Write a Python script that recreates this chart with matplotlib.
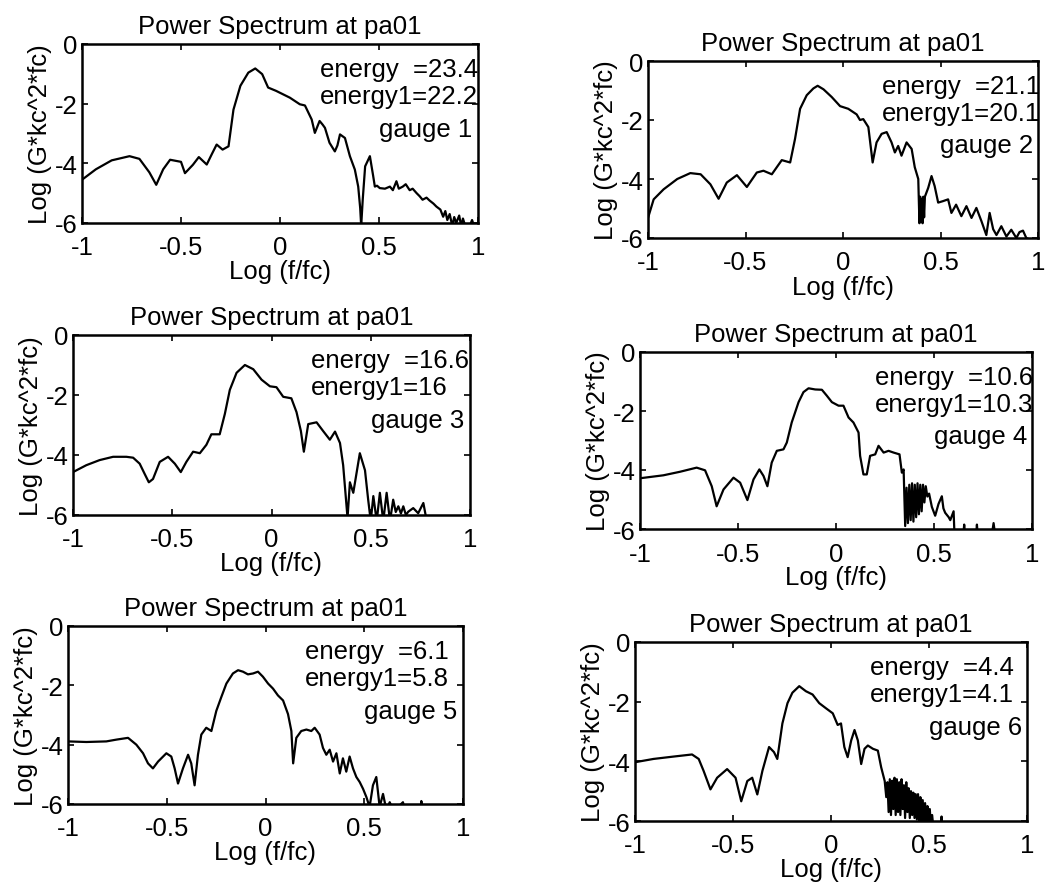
import numpy as np
import matplotlib
matplotlib.use("Agg")
import matplotlib.pyplot as plt

plt.rcParams['font.family'] = ['Liberation Sans', 'DejaVu Sans']

# (log f/fc, log spectrum)
gauge1 = [(-1.0, -4.55), (-0.93, -4.2), (-0.85, -3.9), (-0.76, -3.76), (-0.71, -3.85), (-0.66, -4.3),
          (-0.625, -4.72), (-0.59, -4.2), (-0.555, -3.88), (-0.50, -3.95), (-0.48, -4.33), (-0.44, -4.05),
          (-0.41, -3.79), (-0.37, -4.04), (-0.345, -3.7), (-0.32, -3.37), (-0.29, -3.54), (-0.26, -3.43),
          (-0.235, -2.2), (-0.20, -1.4), (-0.16, -0.96), (-0.125, -0.82), (-0.09, -1.01), (-0.06, -1.46),
          (-0.02, -1.57), (0.05, -1.80), (0.10, -2.02), (0.126, -2.06), (0.16, -2.53), (0.176, -2.98),
          (0.20, -2.58), (0.215, -2.7), (0.227, -2.81), (0.25, -3.31), (0.277, -3.6), (0.29, -3.4),
          (0.303, -3.03), (0.328, -3.15), (0.353, -3.76), (0.378, -4.21), (0.395, -4.78), (0.405, -5.5),
          (0.41, -6.1), (0.418, -5.2), (0.43, -4.1), (0.454, -3.76), (0.47, -4.4), (0.479, -4.78),
          (0.49, -4.75), (0.504, -4.83), (0.53, -4.85), (0.555, -4.78), (0.57, -4.9), (0.588, -4.6),
          (0.60, -4.85), (0.62, -4.78), (0.635, -4.7), (0.655, -4.9), (0.67, -4.85), (0.69, -5.0),
          (0.705, -5.1), (0.72, -5.22), (0.74, -5.15), (0.756, -5.25), (0.775, -5.35), (0.79, -5.45),
          (0.81, -5.55), (0.824, -5.79), (0.835, -5.6), (0.845, -5.9), (0.857, -5.7), (0.87, -6.1),
          (0.88, -5.8), (0.89, -6.0), (0.905, -5.75), (0.915, -6.1), (0.924, -5.85), (0.94, -6.2),
          (0.958, -6.1), (0.97, -5.9), (0.985, -6.2), (1.0, -6.2)]

gauge2 = [(-1.0, -5.32), (-0.971, -4.69), (-0.92, -4.35), (-0.85, -4.0), (-0.783, -3.80), (-0.73, -3.84),
          (-0.68, -4.18), (-0.638, -4.67), (-0.596, -4.12), (-0.544, -3.87), (-0.493, -4.27), (-0.442, -3.78),
          (-0.408, -3.72), (-0.365, -3.84), (-0.314, -3.36), (-0.271, -3.44), (-0.246, -2.64), (-0.22, -1.62),
          (-0.186, -1.16), (-0.152, -0.93), (-0.13, -0.84), (-0.10, -0.96), (-0.058, -1.22), (-0.015, -1.53),
          (0.027, -1.62), (0.07, -1.81), (0.087, -2.0), (0.104, -1.97), (0.13, -2.24), (0.152, -3.44),
          (0.172, -2.76), (0.198, -2.47), (0.224, -2.41), (0.249, -2.76), (0.266, -3.10), (0.283, -2.88),
          (0.30, -3.21), (0.326, -2.76), (0.352, -2.98), (0.368, -3.6), (0.386, -4.0), (0.392, -5.5),
          (0.396, -4.6), (0.400, -5.45), (0.404, -4.7), (0.408, -5.5), (0.412, -4.6), (0.416, -5.3),
          (0.42, -4.6), (0.437, -4.3), (0.454, -3.9), (0.47, -4.24), (0.488, -4.8), (0.513, -4.75),
          (0.539, -4.69), (0.556, -5.15), (0.58, -4.87), (0.607, -5.26), (0.633, -4.92), (0.659, -5.32),
          (0.684, -4.98), (0.71, -5.43), (0.735, -5.9), (0.752, -5.15), (0.77, -5.7), (0.787, -5.9),
          (0.812, -5.6), (0.838, -5.95), (0.863, -5.72), (0.889, -6.0), (0.905, -5.8), (0.923, -5.75),
          (0.94, -6.0), (0.957, -6.05), (1.0, -6.05)]

gauge3 = [(-1.0, -4.57), (-0.933, -4.34), (-0.866, -4.17), (-0.798, -4.06), (-0.731, -4.06), (-0.697, -4.09),
          (-0.664, -4.29), (-0.639, -4.63), (-0.618, -4.91), (-0.597, -4.8), (-0.563, -4.23), (-0.521, -4.06),
          (-0.487, -4.29), (-0.457, -4.57), (-0.429, -4.23), (-0.395, -3.89), (-0.361, -3.94), (-0.328, -3.66),
          (-0.303, -3.31), (-0.261, -3.31), (-0.235, -2.63), (-0.21, -1.83), (-0.176, -1.26), (-0.134, -1.0),
          (-0.092, -1.14), (-0.05, -1.49), (-0.008, -1.71), (0.025, -1.74), (0.059, -2.06), (0.1, -2.11),
          (0.126, -2.57), (0.148, -3.2), (0.163, -3.89), (0.185, -2.97), (0.227, -2.91), (0.26, -3.2),
          (0.294, -3.49), (0.32, -3.22), (0.345, -3.6), (0.361, -4.34), (0.383, -6.1), (0.395, -4.91),
          (0.412, -5.26), (0.445, -3.94), (0.471, -4.51), (0.487, -5.49), (0.5, -6.2), (0.513, -5.37),
          (0.53, -6.2), (0.546, -5.26), (0.563, -6.2), (0.58, -5.26), (0.597, -6.2), (0.613, -5.49),
          (0.626, -5.9), (0.639, -5.71), (0.652, -5.95), (0.664, -5.71), (0.677, -6.0), (0.689, -5.89),
          (0.714, -5.77), (0.739, -5.94), (0.765, -5.6), (0.782, -6.2), (0.815, -6.05), (1.0, -6.2)]

gauge4 = [(-1.0, -4.28), (-0.881, -4.18), (-0.796, -4.06), (-0.711, -3.92), (-0.668, -4.01), (-0.634, -4.55),
          (-0.609, -5.23), (-0.574, -4.66), (-0.523, -4.26), (-0.489, -4.43), (-0.452, -5.02), (-0.421, -4.32),
          (-0.391, -3.98), (-0.37, -4.2), (-0.35, -4.55), (-0.328, -3.75), (-0.302, -3.35), (-0.268, -3.3),
          (-0.251, -3.07), (-0.226, -2.39), (-0.191, -1.7), (-0.166, -1.36), (-0.14, -1.23), (-0.106, -1.27),
          (-0.072, -1.28), (-0.047, -1.48), (-0.021, -1.7), (0.013, -1.82), (0.038, -1.82), (0.064, -2.22),
          (0.089, -2.39), (0.115, -2.73), (0.123, -3.52), (0.14, -4.15), (0.157, -4.15), (0.174, -3.52),
          (0.2, -3.47), (0.217, -3.18), (0.243, -3.41), (0.268, -3.35), (0.294, -3.41), (0.324, -3.47),
          (0.336, -4.09), (0.345, -3.98), (0.353, -5.9), (0.36, -4.6), (0.367, -5.8), (0.374, -4.5),
          (0.381, -5.7), (0.388, -4.45), (0.395, -5.75), (0.402, -4.5), (0.409, -5.6), (0.416, -4.45),
          (0.423, -5.5), (0.43, -4.5), (0.437, -5.4), (0.444, -4.5), (0.451, -5.1), (0.458, -4.55),
          (0.466, -4.9), (0.475, -4.8), (0.489, -5.25), (0.506, -5.55), (0.523, -5.15), (0.54, -4.89),
          (0.548, -5.3), (0.557, -5.45), (0.575, -5.6), (0.583, -5.7), (0.6, -5.4), (0.604, -6.1),
          (0.651, -6.1), (0.654, -5.85), (0.658, -6.2), (0.715, -6.2), (0.719, -5.85), (0.723, -6.2),
          (0.795, -6.2), (0.804, -5.8), (0.812, -6.2), (1.0, -6.2)]

gauge5 = [(-1.0, -3.89), (-0.907, -3.91), (-0.806, -3.89), (-0.755, -3.83), (-0.696, -3.77), (-0.654, -4.0),
          (-0.62, -4.29), (-0.595, -4.63), (-0.57, -4.8), (-0.544, -4.57), (-0.502, -4.29), (-0.477, -4.4),
          (-0.46, -4.8), (-0.443, -5.31), (-0.418, -4.8), (-0.392, -4.34), (-0.376, -4.63), (-0.359, -5.37),
          (-0.342, -4.34), (-0.325, -3.66), (-0.3, -3.43), (-0.274, -3.54), (-0.249, -2.86), (-0.224, -2.4),
          (-0.198, -1.94), (-0.165, -1.6), (-0.139, -1.49), (-0.114, -1.54), (-0.089, -1.63), (-0.063, -1.6),
          (-0.038, -1.54), (-0.013, -1.71), (0.013, -1.94), (0.038, -2.11), (0.063, -2.34), (0.089, -2.51),
          (0.114, -2.97), (0.131, -3.54), (0.14, -4.63), (0.156, -3.77), (0.181, -3.54), (0.207, -3.49),
          (0.232, -3.54), (0.249, -3.43), (0.274, -3.66), (0.291, -4.11), (0.308, -4.34), (0.325, -4.17),
          (0.342, -4.57), (0.359, -4.29), (0.376, -4.97), (0.392, -4.46), (0.409, -4.91), (0.426, -4.4),
          (0.443, -4.8), (0.46, -5.09), (0.477, -5.26), (0.494, -5.49), (0.511, -5.77), (0.527, -6.1),
          (0.544, -5.37), (0.561, -5.09), (0.578, -6.1), (0.595, -5.66), (0.612, -6.2), (0.629, -5.94),
          (0.646, -6.2), (0.671, -6.1), (0.696, -5.94), (0.705, -6.2), (0.785, -6.2), (0.789, -5.9),
          (0.795, -6.2), (1.0, -6.2)]

gauge6 = [(-1.0, -4.03), (-0.906, -3.92), (-0.803, -3.84), (-0.709, -3.77), (-0.675, -3.92), (-0.65, -4.32),
          (-0.615, -4.94), (-0.581, -4.55), (-0.53, -4.26), (-0.487, -4.55), (-0.458, -5.34), (-0.427, -4.66),
          (-0.402, -4.55), (-0.376, -5.11), (-0.35, -4.32), (-0.316, -3.52), (-0.291, -3.69), (-0.274, -3.92),
          (-0.248, -2.73), (-0.222, -2.05), (-0.197, -1.7), (-0.162, -1.48), (-0.128, -1.65), (-0.094, -1.76),
          (-0.06, -2.05), (-0.026, -2.22), (0.009, -2.39), (0.034, -2.78), (0.051, -2.73), (0.068, -3.52),
          (0.085, -3.86), (0.103, -3.3), (0.12, -2.95), (0.137, -3.3), (0.154, -4.09), (0.171, -3.58),
          (0.188, -3.47), (0.214, -3.58), (0.239, -3.64), (0.256, -4.2), (0.274, -4.66), (0.282, -5.2),
          (0.288, -4.7), (0.294, -5.7), (0.300, -4.6), (0.306, -5.8), (0.312, -4.65), (0.318, -5.6),
          (0.324, -4.55), (0.330, -5.8), (0.336, -4.6), (0.342, -5.7), (0.348, -4.7), (0.354, -5.8),
          (0.360, -4.6), (0.366, -5.6), (0.372, -4.8), (0.378, -5.9), (0.384, -4.7), (0.390, -5.7),
          (0.396, -4.9), (0.402, -5.9), (0.408, -5.0), (0.414, -5.8), (0.420, -5.05), (0.426, -5.9),
          (0.432, -5.1), (0.438, -5.95), (0.444, -5.1), (0.450, -6.0), (0.456, -5.2), (0.462, -6.1),
          (0.468, -5.3), (0.474, -6.1), (0.480, -5.4), (0.486, -6.1), (0.492, -5.5), (0.498, -6.2),
          (0.504, -5.6), (0.51, -6.2), (0.516, -5.8), (0.522, -6.2), (0.56, -6.2), (0.564, -5.85),
          (0.568, -6.2), (1.0, -6.2)]

spectra = [gauge1, gauge2, gauge3, gauge4, gauge5, gauge6]
energy = ['23.4', '21.1', '16.6', '10.6', '6.1', '4.4']
energy1 = ['22.2', '20.1', '16', '10.3', '5.8', '4.1']
gauge_names = ['gauge 1', 'gauge 2', 'gauge 3', 'gauge 4', 'gauge 5', 'gauge 6']

W, H = 1046, 895
fig = plt.figure(figsize=(W / 100, H / 100), dpi=100)

# axes boxes in pixels: left, top, right, bottom
boxes = [(82, 45, 478, 224), (648, 62, 1038, 239),
         (73, 336, 470, 516), (640, 353, 1032, 530),
         (68, 627, 463, 805), (635, 643, 1027, 822)]

fs = 18.5
for i, (l, t, r, b) in enumerate(boxes):
    ax = fig.add_axes([l / W, 1 - b / H, (r - l) / W, (b - t) / H])
    d = np.array(spectra[i])
    ax.plot(d[:, 0], d[:, 1], color='black', lw=1.6, solid_joinstyle='round')
    ax.set_xlim(-1, 1)
    ax.set_ylim(-6, 0)
    ax.set_xticks([-1, -0.5, 0, 0.5, 1])
    ax.set_xticklabels(['-1', '-0.5', '0', '0.5', '1'])
    ax.set_yticks([-6, -4, -2, 0])
    ax.set_yticklabels(['-6', '-4', '-2', '0'])
    ax.tick_params(direction='in', top=True, right=True, length=4, width=1.2,
                   labelsize=fs)
    ax.tick_params(axis='x', pad=9)
    ax.tick_params(axis='y', pad=3)
    for s in ax.spines.values():
        s.set_linewidth(1.8)
    ax.set_title('Power Spectrum at pa01', fontsize=fs, pad=8)
    ax.set_xlabel('Log (f/fc)', fontsize=fs, labelpad=0)
    ax.set_ylabel('Log (G*kc^2*fc)', fontsize=fs, labelpad=2)
    ax.text(0.2, -0.85, 'energy  =' + energy[i], fontsize=fs, va='center', ha='left', clip_on=True)
    ax.text(0.2, -1.75, 'energy1=' + energy1[i], fontsize=fs, va='center', ha='left', clip_on=True)
    ax.text(0.5, -2.85, gauge_names[i], fontsize=fs, va='center', ha='left', clip_on=True)

fig.savefig('out.png', dpi=100, facecolor='white')
